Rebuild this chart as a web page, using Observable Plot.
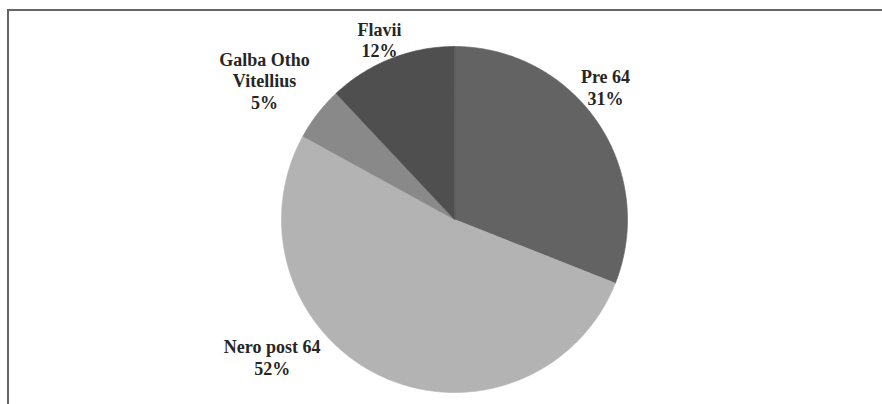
<!DOCTYPE html>
<html>
<head>
<meta charset="utf-8">
<script src="https://cdn.jsdelivr.net/npm/d3@7"></script>
<script src="https://cdn.jsdelivr.net/npm/@observablehq/plot@0.6"></script>
<style>
  html, body { margin: 0; padding: 0; background: #fff; }
  #wrap { position: relative; width: 882px; height: 404px; overflow: hidden; }
  #frame { position: absolute; left: 7px; top: 9px; width: 890px; height: 410px;
           border-top: 2px solid #666; border-left: 2px solid #666; pointer-events: none; }
  #wrap svg { display: block; }
  #wrap svg text { font-family: "Liberation Serif", "Times New Roman", Times, serif; }
</style>
</head>
<body>
<div id="wrap"><div id="frame"></div></div>
<script>
// ---- data ----
const categories = ["Pre 64", "Nero post 64", "Galba Otho Vitellius", "Flavii"];
const shares = [31, 52, 5, 12];          // percent
const labelTexts = ["Pre 64", "Nero post 64", "Galba Otho\nVitellius", "Flavii"];

// ---- style / layout (kept apart from data) ----
const sliceColors = ["#636363", "#b3b3b3", "#898989", "#4f4f4f"];
// label block centre, in pie-radius units relative to the pie centre
const labelLayout = {
  "Pre 64": [0.873, 0.765],
  "Nero post 64": [-1.054, -0.795],
  "Galba Otho Vitellius": [-1.098, 0.805],
  "Flavii": [-0.434, 1.04]
};

// ---- pie geometry from data (clockwise from 12 o'clock) ----
const total = d3.sum(shares);
const polys = [];
let acc = 0;
categories.forEach((cat, i) => {
  const a0 = acc / total * 2 * Math.PI;
  acc += shares[i];
  const a1 = acc / total * 2 * Math.PI;
  polys.push({cat, x: 0, y: 0});
  const n = Math.max(2, Math.ceil((a1 - a0) / (Math.PI / 360)));
  for (let k = 0; k <= n; k++) {
    const a = a0 + (a1 - a0) * k / n;
    polys.push({cat, x: Math.sin(a), y: Math.cos(a)});
  }
});

const labels = categories.map((cat, i) => ({
  cat,
  text: labelTexts[i] + "\n" + shares[i] + "%",
  x: labelLayout[cat][0],
  y: labelLayout[cat][1]
}));

const R = 173, cx = 454, cy = 219, W = 882, H = 404;

const chart = Plot.plot({
  width: W,
  height: H,
  marginLeft: cx - R,
  marginRight: W - cx - R,
  marginTop: cy - R,
  marginBottom: H - cy - R,
  x: {domain: [-1, 1], axis: null},
  y: {domain: [-1, 1], axis: null},
  color: {domain: categories, range: sliceColors},
  style: {background: "transparent", overflow: "visible", fontFamily: "'Liberation Serif', 'Times New Roman', serif"},
  marks: [
    Plot.line(polys, {
      x: "x", y: "y", z: "cat",
      fill: "cat", stroke: "cat", strokeWidth: 0.6,
      curve: "linear-closed"
    }),
    Plot.text(labels, {
      x: "x", y: "y", text: "text",
      fontFamily: "'Liberation Serif', 'Times New Roman', serif", fontWeight: "bold", fontSize: 18,
      lineHeight: 1.2, lineAnchor: "middle", textAnchor: "middle",
      fill: "#262626"
    })
  ]
});

document.getElementById("wrap").insertBefore(chart, document.getElementById("frame"));
</script>
</body>
</html>
